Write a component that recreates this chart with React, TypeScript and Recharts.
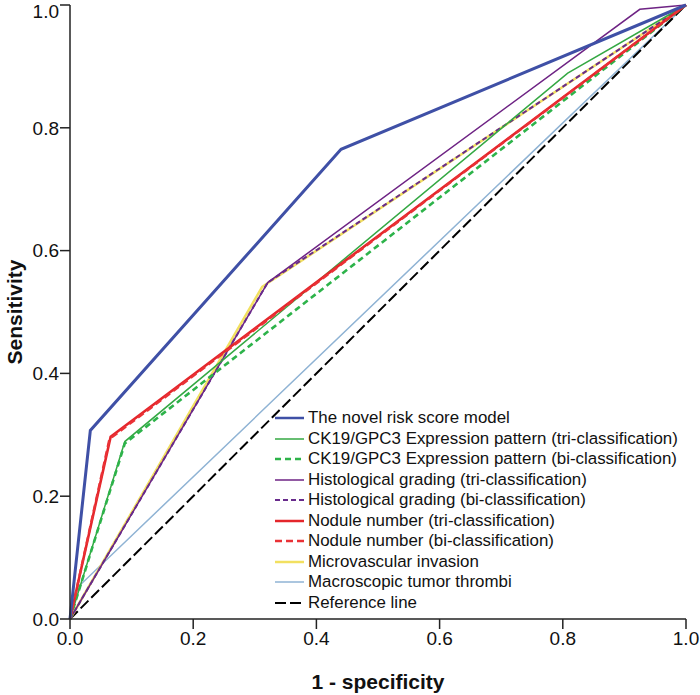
import { LineChart, Line, XAxis, YAxis } from 'recharts'

// ROC points (1 - specificity, sensitivity)
const novelFpr = [0, 0.033, 0.44, 1]
const novelTpr = [0, 0.307, 0.765, 1]
const ckTriFpr = [0, 0.089, 0.808, 1]
const ckTriTpr = [0, 0.289, 0.889, 1]
const ckBiFpr = [0, 0.089, 1]
const ckBiTpr = [0, 0.286, 1]
const histTriFpr = [0, 0.321, 0.925, 1]
const histTriTpr = [0, 0.548, 0.993, 1]
const histBiFpr = [0, 0.321, 1]
const histBiTpr = [0, 0.548, 1]
const noduleTriFpr = [0, 0.066, 1]
const noduleTriTpr = [0, 0.297, 1]
const noduleBiFpr = [0, 0.064, 1]
const noduleBiTpr = [0, 0.293, 1]
const mviFpr = [0, 0.312, 1]
const mviTpr = [0, 0.541, 1]
const thrombiFpr = [0, 0.013, 1]
const thrombiTpr = [0, 0.052, 1]
const refFpr = [0, 1]
const refTpr = [0, 1]

const ticks = [0, 0.2, 0.4, 0.6, 0.8, 1]

const zip = (xs: number[], ys: number[]) => xs.map((x, i) => ({ x, y: ys[i] }))

interface Series {
  name: string
  data: { x: number; y: number }[]
  color: string
  width: number
  dash?: string
}

// drawing order (bottom to top)
const series: Series[] = [
  { name: 'Macroscopic tumor thrombi', data: zip(thrombiFpr, thrombiTpr), color: '#8fb3d4', width: 1.5 },
  { name: 'Reference line', data: zip(refFpr, refTpr), color: '#000000', width: 2, dash: '11 4' },
  { name: 'Microvascular invasion', data: zip(mviFpr, mviTpr), color: '#f2e060', width: 2.5 },
  { name: 'Histological grading (tri-classification)', data: zip(histTriFpr, histTriTpr), color: '#6e2384', width: 1.5 },
  { name: 'Histological grading (bi-classification)', data: zip(histBiFpr, histBiTpr), color: '#682b8c', width: 2, dash: '5 3' },
  { name: 'CK19/GPC3 Expression pattern (tri-classification)', data: zip(ckTriFpr, ckTriTpr), color: '#34a843', width: 1.5 },
  { name: 'CK19/GPC3 Expression pattern (bi-classification)', data: zip(ckBiFpr, ckBiTpr), color: '#2db34a', width: 2.6, dash: '6 4' },
  { name: 'Nodule number (tri-classification)', data: zip(noduleTriFpr, noduleTriTpr), color: '#e4262b', width: 2.6 },
  { name: 'Nodule number (bi-classification)', data: zip(noduleBiFpr, noduleBiTpr), color: '#ea3136', width: 2.4, dash: '7 4' },
  { name: 'The novel risk score model', data: zip(novelFpr, novelTpr), color: '#3f50a6', width: 3 },
]

const legendOrder = [
  'The novel risk score model',
  'CK19/GPC3 Expression pattern (tri-classification)',
  'CK19/GPC3 Expression pattern (bi-classification)',
  'Histological grading (tri-classification)',
  'Histological grading (bi-classification)',
  'Nodule number (tri-classification)',
  'Nodule number (bi-classification)',
  'Microvascular invasion',
  'Macroscopic tumor thrombi',
  'Reference line',
]

const FONT = '"Liberation Sans", Arial, sans-serif'

function RocLegend() {
  return (
    <div style={{ position: 'absolute', left: 270, top: 408, fontFamily: FONT, fontSize: 16.9, color: '#111', pointerEvents: 'none' }}>
      {legendOrder.map((name) => {
        const s = series.find((d) => d.name === name)!
        return (
          <div key={name} style={{ display: 'flex', alignItems: 'center', height: 20.5, whiteSpace: 'nowrap' }}>
            <svg width={38} height={10} style={{ flex: 'none' }}>
              <line x1={5} y1={5} x2={34} y2={5} stroke={s.color} strokeWidth={Math.min(s.width, 2.5)} strokeDasharray={s.dash} />
            </svg>
            <span>{name}</span>
          </div>
        )
      })}
    </div>
  )
}

export default function App() {
  const tickStyle = { fontSize: 19, fontFamily: FONT, fill: '#111' }
  const titleStyle = { fontSize: 21, fontWeight: 'bold' as const, fontFamily: FONT, fill: '#111' }
  return (
    <div style={{ position: 'absolute', left: 0, top: 0, width: 700, height: 695, background: '#fff' }}>
      <LineChart width={700} height={695} margin={{ top: 5, right: 14, left: 0, bottom: 0 }}>
        <XAxis
          dataKey="x"
          type="number"
          domain={[0, 1]}
          ticks={ticks}
          tickFormatter={(v: number) => v.toFixed(1)}
          tick={tickStyle}
          tickSize={10}
          tickMargin={3}
          height={76}
          axisLine={{ stroke: '#222', strokeWidth: 1.5 }}
          tickLine={{ stroke: '#222', strokeWidth: 1.5 }}
          allowDuplicatedCategory={false}
          label={{ value: '1 - specificity', position: 'insideBottom', offset: 6, style: titleStyle }}
        />
        <XAxis xAxisId="top" orientation="top" type="number" domain={[0, 1]} tick={false} tickLine={false} height={0} axisLine={{ stroke: '#222', strokeWidth: 1.5 }} />
        <YAxis
          type="number"
          domain={[0, 1]}
          ticks={ticks}
          tickFormatter={(v: number) => v.toFixed(1)}
          tick={tickStyle}
          tickSize={10}
          tickMargin={1}
          width={70}
          axisLine={{ stroke: '#222', strokeWidth: 1.5 }}
          tickLine={{ stroke: '#222', strokeWidth: 1.5 }}
          label={({ viewBox }: any) => {
            const cy = viewBox.y + viewBox.height / 2
            return (
              <text x={14} y={cy} transform={`rotate(-90, 14, ${cy})`} textAnchor="middle" dominantBaseline="central" style={titleStyle}>
                Sensitivity
              </text>
            )
          }}
        />
        <YAxis yAxisId="right" orientation="right" type="number" domain={[0, 1]} tick={false} tickLine={false} width={0} axisLine={{ stroke: '#222', strokeWidth: 1.5 }} />
        {series.map((s) => (
          <Line
            key={s.name}
            data={s.data}
            dataKey="y"
            name={s.name}
            stroke={s.color}
            strokeWidth={s.width}
            strokeDasharray={s.dash}
            dot={false}
            activeDot={false}
            type="linear"
            isAnimationActive={false}
          />
        ))}
      </LineChart>
      <RocLegend />
    </div>
  )
}
